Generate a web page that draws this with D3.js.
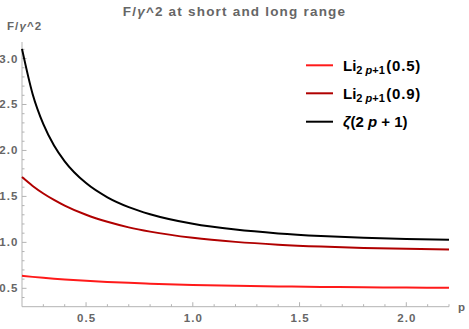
<!DOCTYPE html>
<html><head><meta charset="utf-8">
<script src="https://cdn.jsdelivr.net/npm/d3@7"></script>
<style>body{margin:0;background:#fff}svg{display:block}</style>
</head><body>
<svg id="c" width="469" height="329"></svg>
<script>
const pValues = [0.2,0.25,0.3,0.35,0.4,0.5,0.6,0.7,0.8,1.0,1.2,1.4,1.6,1.8,2.0,2.2];
const li05 = [0.636,0.6245,0.6147,0.6054,0.597,0.5822,0.5699,0.5595,0.5508,0.5372,0.5274,0.5203,0.5151,0.5112,0.5084,0.5063];
const li09 = [1.710,1.614,1.532,1.462,1.400,1.2998,1.2234,1.1633,1.1167,1.0495,1.0053,0.9752,0.9544,0.9398,0.9293,0.9216];
const zeta = [3.1055,2.6124,2.2858,2.0543,1.8822,1.6449,1.4905,1.3837,1.3064,1.2021,1.1387,1.0975,1.0697,1.0505,1.0369,1.0272];
const xMajor = [0.5,1.0,1.5,2.0];
const yMajor = [0.5,1.0,1.5,2.0,2.5,3.0];
const seriesNames = ["Li05","Li09","zeta"];

const svg = d3.select("#c");
const x = d3.scaleLinear().domain([0.2,2.2]).range([22,449]);
const y = d3.scaleLinear().domain([0.3,3.18]).range([306.7,42]);
const axisCol = "#b3b3b3", labCol = "#666";
const font = "'Liberation Sans', Arial, sans-serif";

svg.append("line").attr("x1",x(0.2)).attr("x2",x(2.2)).attr("y1",y(0.3)).attr("y2",y(0.3)).attr("stroke",axisCol);
svg.append("line").attr("x1",x(0.2)).attr("x2",x(0.2)).attr("y1",y(0.3)).attr("y2",y(3.18)).attr("stroke",axisCol);

const xMinor = d3.range(3,23).map(i=>i/10);
svg.append("g").selectAll("line").data(xMinor).join("line")
  .attr("x1",d=>x(d)).attr("x2",d=>x(d))
  .attr("y1",y(0.3)).attr("y2",d=>y(0.3)-(xMajor.some(m=>Math.abs(m-d)<1e-9)?4.5:2.5))
  .attr("stroke",axisCol);
const yMinor = d3.range(4,32).map(i=>i/10);
svg.append("g").selectAll("line").data(yMinor).join("line")
  .attr("y1",d=>y(d)).attr("y2",d=>y(d))
  .attr("x1",x(0.2)).attr("x2",d=>x(0.2)+(yMajor.some(m=>Math.abs(m-d)<1e-9)?4.5:2.5))
  .attr("stroke",axisCol);

const tickStyle = s => s.attr("font-family",font).attr("font-weight","bold").attr("font-size",11.5)
  .attr("letter-spacing",1.1).attr("fill",labCol);
svg.append("g").selectAll("text").data(xMajor).join("text")
  .attr("x",d=>x(d)+0.6).attr("y",322).attr("text-anchor","middle").call(tickStyle)
  .text(d=>d.toFixed(1));
svg.append("g").selectAll("text").data(yMajor).join("text")
  .attr("x",18.5).attr("y",d=>y(d)+4).attr("text-anchor","end").call(tickStyle)
  .text(d=>d.toFixed(1));

const al = svg.append("text").attr("x",7).attr("y",30).call(tickStyle);
al.append("tspan").text("F/");
al.append("tspan").attr("font-style","italic").text("γ");
al.append("tspan").text("^2");
svg.append("text").attr("x",458).attr("y",311).call(tickStyle).text("p");
const tt = svg.append("text").attr("x",234.5).attr("y",16).attr("text-anchor","middle").attr("font-family",font).attr("font-weight","bold")
  .attr("font-size",13.5).attr("letter-spacing",1.2).attr("fill",labCol);
tt.append("tspan").text("F/");
tt.append("tspan").attr("font-style","italic").text("γ");
tt.append("tspan").text("^2 at short and long range");

const colors = ["#ff1a1a","#b00000","#000000"];
const data = [li05, li09, zeta];
const line = d3.line().x((d,i)=>x(pValues[i])).y(d=>y(d)).curve(d3.curveMonotoneX);
svg.append("g").selectAll("path").data(data).join("path")
  .attr("d",line).attr("fill","none").attr("stroke",(d,i)=>colors[i]).attr("stroke-width",2);

const legY = [65.3,93.3,121.7];
const lg = svg.append("g");
legY.forEach((ly,i)=>{
  lg.append("line").attr("x1",306).attr("x2",333).attr("y1",ly).attr("y2",ly).attr("stroke",colors[i]).attr("stroke-width",2);
});
const legStyle = s => s.attr("font-family",font).attr("font-weight","bold").attr("font-size",15).attr("fill","#000");
function liLabel(ly, arg){
  const t = lg.append("text").attr("x",343).attr("y",ly+5.5).call(legStyle);
  t.append("tspan").text("Li");
  const s = t.append("tspan").attr("font-size",11).attr("dy",3);
  s.append("tspan").text("2 ");
  s.append("tspan").attr("font-style","italic").text("p");
  s.append("tspan").text("+1");
  t.append("tspan").attr("dy",-3).attr("dx",1.5).attr("letter-spacing",0.8).text("(" + arg + ")");
}
liLabel(legY[0],"0.5");
liLabel(legY[1],"0.9");
const tz = lg.append("text").attr("x",343).attr("y",legY[2]+5.5).call(legStyle);
tz.append("tspan").attr("font-style","italic").text("ζ");
tz.append("tspan").text("(2 ");
tz.append("tspan").attr("font-style","italic").text("p");
tz.append("tspan").text(" + 1)");
</script>
</body></html>
